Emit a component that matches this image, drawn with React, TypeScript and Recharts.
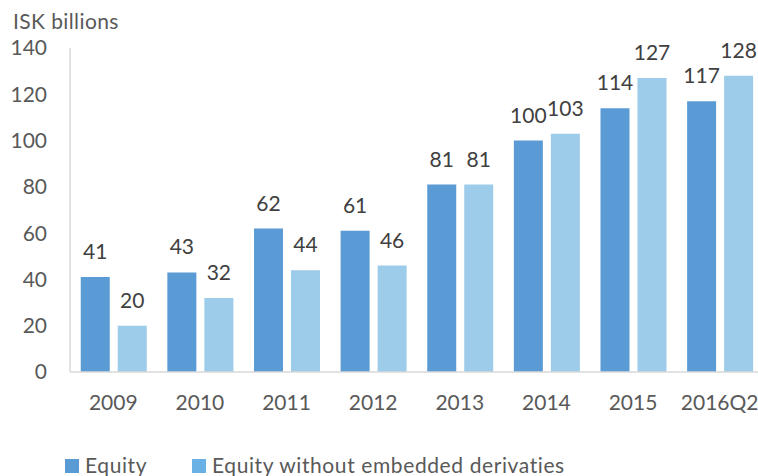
import React from 'react';
import { BarChart, Bar, XAxis, YAxis, LabelList } from 'recharts';

const categories = ['2009', '2010', '2011', '2012', '2013', '2014', '2015', '2016Q2'];
const equity = [41, 43, 62, 61, 81, 100, 114, 117];
const equityWithoutDerivatives = [20, 32, 44, 46, 81, 103, 127, 128];
const yTicks = [0, 20, 40, 60, 80, 100, 120, 140];

const seriesNames = ['Equity', 'Equity without embedded derivaties'];
const barColors = ['#5B9BD5', '#9DCBEA'];
const legendColors = ['#5B9BD5', '#6AB2E5'];

const data = categories.map((c, i) => ({
  name: c,
  equity: equity[i],
  without: equityWithoutDerivatives[i],
}));

const FONT = 'Lato, "Noto Sans", sans-serif';

export default function App() {
  return (
    <div
      style={{
        position: 'fixed',
        left: 0,
        top: 0,
        width: 758,
        height: 476,
        overflow: 'hidden',
        background: '#ffffff',
        fontFamily: FONT,
      }}
    >
      <BarChart
        width={763}
        height={476}
        data={data}
        margin={{ top: 48, right: 0, bottom: 0, left: 0 }}
        barCategoryGap="12.4%"
        barGap={8}
      >
        <XAxis
          dataKey="name"
          height={104}
          axisLine={{ stroke: '#D9D9D9', strokeWidth: 1.5 }}
          tickLine={false}
          tickSize={0}
          tickMargin={23}
          tick={{ fill: '#595959', fontSize: 21, fontFamily: FONT }}
          interval={0}
        />
        <YAxis
          width={70}
          domain={[0, 140]}
          ticks={yTicks}
          axisLine={{ stroke: '#D9D9D9', strokeWidth: 1.5 }}
          tickLine={false}
          tickSize={0}
          tickMargin={23}
          tick={{ fill: '#595959', fontSize: 21, fontFamily: FONT }}
          interval={0}
        />
        <Bar dataKey="equity" name={seriesNames[0]} fill={barColors[0]} isAnimationActive={false}>
          <LabelList
            dataKey="equity"
            position="top"
            offset={18}
            fill="#404040"
            fontSize={21}
            fontFamily={FONT}
          />
        </Bar>
        <Bar dataKey="without" name={seriesNames[1]} fill={barColors[1]} isAnimationActive={false}>
          <LabelList
            dataKey="without"
            position="top"
            offset={18}
            fill="#404040"
            fontSize={21}
            fontFamily={FONT}
          />
        </Bar>
      </BarChart>
      <svg
        width={758}
        height={476}
        style={{ position: 'absolute', left: 0, top: 0, pointerEvents: 'none' }}
      >
        <text x={13} y={29} fontSize={21} fill="#595959" fontFamily={FONT} letterSpacing={0.4}>
          ISK billions
        </text>
        <rect x={65} y={459} width={14} height={14} fill={legendColors[0]} />
        <text x={85} y={473} fontSize={21} fill="#595959" fontFamily={FONT} letterSpacing={0.6}>
          {seriesNames[0]}
        </text>
        <rect x={192} y={459} width={14} height={14} fill={legendColors[1]} />
        <text x={212} y={473} fontSize={21} fill="#595959" fontFamily={FONT} letterSpacing={0.6}>
          {seriesNames[1]}
        </text>
      </svg>
    </div>
  );
}
